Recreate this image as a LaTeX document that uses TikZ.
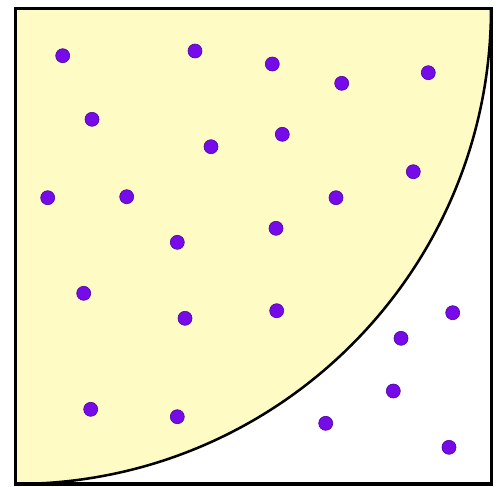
\documentclass[tikz,border=0pt]{standalone}
\definecolor{qfill}{RGB}{255,251,196}
\definecolor{dotfill}{RGB}{118,10,232}
\definecolor{dotline}{RGB}{80,10,160}
\tikzset{
  pt/.style={circle,fill=dotfill,draw=dotline,line width=0.5pt,inner sep=0pt,minimum size=10.5pt},
  frame/.style={draw=black,line width=2.3pt},
  arcline/.style={draw=black,line width=1.9pt}
}
\begin{document}
\begin{tikzpicture}[x=0.75pt,y=-0.75pt]
\useasboundingbox (0,0) rectangle (500,486);
\fill[qfill] (15.5,8.5) -- (15.5,484) arc[start angle=90,end angle=0,radius=475.5] -- cycle;
\draw[arcline] (15.5,484) arc[start angle=90,end angle=0,radius=475.5];
\draw[frame] (15.5,8.5) rectangle (491.5,484);
\foreach \n/\x/\y in {1/62.7/55.7, 2/195/51, 3/272.3/64, 4/341.7/83.3, 5/428.3/72.7,
  6/92/119.3, 7/211/146.7, 8/282.3/134.3,
  9/47.7/197.7, 10/126.7/196.7, 11/336/197.7, 12/413.3/171.7,
  13/177.3/242.3, 14/276/228.3,
  15/83.7/293.3, 16/185/318.3, 17/276.7/310.7, 18/401/338.3, 19/452.7/312.7,
  20/90.7/409.3, 21/177.3/416.7, 22/325.7/423.3, 23/393.3/391, 24/449/447.3}
  \node[pt] (d\n) at (\x,\y) {};
\end{tikzpicture}
\end{document}
